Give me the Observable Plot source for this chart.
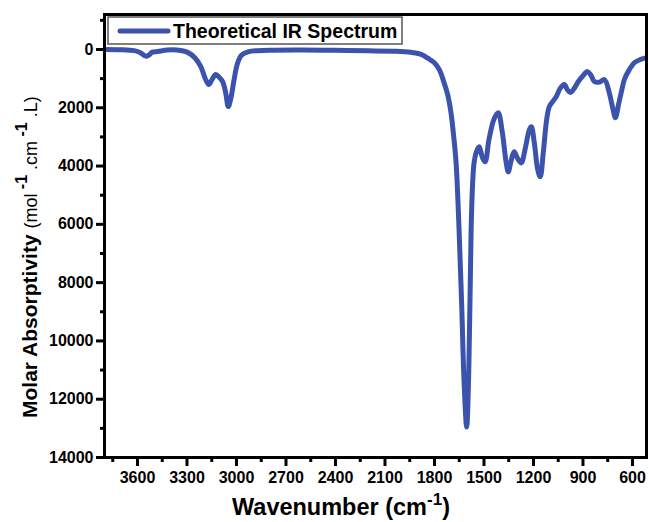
<!DOCTYPE html>
<html><head><meta charset="utf-8">
<script src="https://cdn.jsdelivr.net/npm/d3@7"></script>
<script src="https://cdn.jsdelivr.net/npm/@observablehq/plot@0.6"></script>
<style>body{margin:0;background:#fff}</style>
</head><body><div id="chart"></div>
<script>
const wavenumber = [3800,3700,3620,3600,3580,3560,3545,3530,3510,3478,3420,3360,3296,3250,3217,3187,3168,3150,3126,3105,3084,3065,3050,3035,3015,2995,2970,2930,2870,2780,2600,2400,2200,2050,2003,1930,1881,1840,1802,1770,1742,1720,1700,1685,1669,1651,1635,1620,1605,1592,1578,1568,1560,1545,1529,1510,1493,1470,1440,1414,1390,1365,1353,1335,1317,1295,1274,1250,1225,1213,1195,1175,1159,1140,1120,1104,1085,1062,1040,1013,995,977,955,928,900,873,850,831,800,770,740,720,703,685,665,649,620,588,550,515];
const absorptivity = [0,10,40,70,120,200,230,190,90,70,20,20,100,300,580,1030,1200,1050,860,950,1100,1500,1960,1700,1050,500,200,80,40,25,20,30,45,60,70,110,170,300,450,700,1140,1550,2170,2900,3890,6190,8800,11500,12950,11000,6190,4500,3890,3500,3340,3700,3850,3100,2400,2170,2800,3900,4200,3800,3510,3750,3890,3400,2750,2650,3200,4100,4370,3500,2400,1960,1800,1620,1350,1200,1380,1480,1350,1100,900,760,900,1100,1120,1030,1500,2000,2340,1900,1400,1030,700,450,340,280];
const xMajorTicks = [3600,3300,3000,2700,2400,2100,1800,1500,1200,900,600];
const xMinorTicks = [3750,3450,3150,2850,2550,2250,1950,1650,1350,1050,750];
const yMajorTicks = [0,2000,4000,6000,8000,10000,12000,14000];
const yMinorTicks = [-1000,1000,3000,5000,7000,9000,11000,13000];
const seriesName = "Theoretical IR Spectrum";
const lineColor = "#3b53ad";

const data = wavenumber.map((w, i) => ({w, a: absorptivity[i]}));
const FONT = "'Liberation Sans', Arial, Helvetica, sans-serif";

const plot = Plot.plot({
  width: 649, height: 522,
  marginLeft: 104, marginRight: 3, marginTop: 14, marginBottom: 65,
  style: {fontFamily: FONT, background: "#fff", color: "#000"},
  x: {domain: [3800, 515]},
  y: {domain: [-1200, 14000], reverse: true},
  marks: [
    Plot.line(data, {x: "w", y: "a", stroke: lineColor, strokeWidth: 5, curve: "catmull-rom", clip: true}),
    Plot.frame({stroke: "#000", strokeWidth: 3}),
    Plot.axisX({ticks: xMajorTicks, tickSize: 9, tickPadding: 5, strokeWidth: 3, fontSize: 16, fontWeight: "bold", label: null, tickFormat: d => String(d)}),
    Plot.axisX({ticks: xMinorTicks, tickSize: 5, strokeWidth: 3, text: null, label: null}),
    Plot.axisY({ticks: yMajorTicks, tickSize: 8, tickPadding: 3, strokeWidth: 3, fontSize: 16, fontWeight: "bold", label: null, tickFormat: d => String(d)}),
    Plot.axisY({ticks: yMinorTicks, tickSize: 4, strokeWidth: 3, text: null, label: null})
  ]
});
document.getElementById("chart").appendChild(plot);

const svg = d3.select(plot);
svg.selectAll('g[aria-label="x-axis tick label"], g[aria-label="y-axis tick label"]')
  .attr("font-weight", "bold").attr("font-size", 16);

// X axis title
const xt = svg.append("text").attr("x", 232).attr("y", 515).attr("text-anchor", "start")
  .attr("font-size", 23.5).attr("font-weight", "bold").attr("fill", "#000").attr("font-family", FONT);
xt.append("tspan").text("Wavenumber (cm");
xt.append("tspan").attr("dy", -10).attr("font-size", 17).text("-1");
xt.append("tspan").attr("dy", 10).text(")");

// Y axis title
const yt = svg.append("text").attr("transform", "translate(37,418) rotate(-90)").attr("text-anchor", "start")
  .attr("font-size", 21).attr("font-weight", "bold").attr("fill", "#000").attr("font-family", FONT);
yt.append("tspan").text("Molar Absorptivity ");
yt.append("tspan").attr("font-size", 18).attr("font-weight", "normal").text("(mol");
yt.append("tspan").attr("dy", -10).attr("font-size", 16).text(" -1");
yt.append("tspan").attr("dy", 10).attr("font-size", 18).attr("font-weight", "normal").text(" .cm");
yt.append("tspan").attr("dy", -10).attr("font-size", 16).text(" -1");
yt.append("tspan").attr("dy", 10).attr("font-size", 18).attr("font-weight", "normal").text(" .L)");

// Legend
const lg = svg.append("g");
lg.append("rect").attr("x", 108).attr("y", 17).attr("width", 294).attr("height", 27)
  .attr("fill", "#fff").attr("stroke", "#555").attr("stroke-width", 1.5);
lg.append("line").attr("x1", 120).attr("x2", 168).attr("y1", 31).attr("y2", 31)
  .attr("stroke", lineColor).attr("stroke-width", 5).attr("stroke-linecap", "round");
lg.append("text").attr("x", 173).attr("y", 38).attr("text-anchor", "start").attr("font-size", 19.5).attr("font-weight", "bold")
  .attr("fill", "#000").attr("font-family", FONT).text(seriesName);
</script>
</body></html>
